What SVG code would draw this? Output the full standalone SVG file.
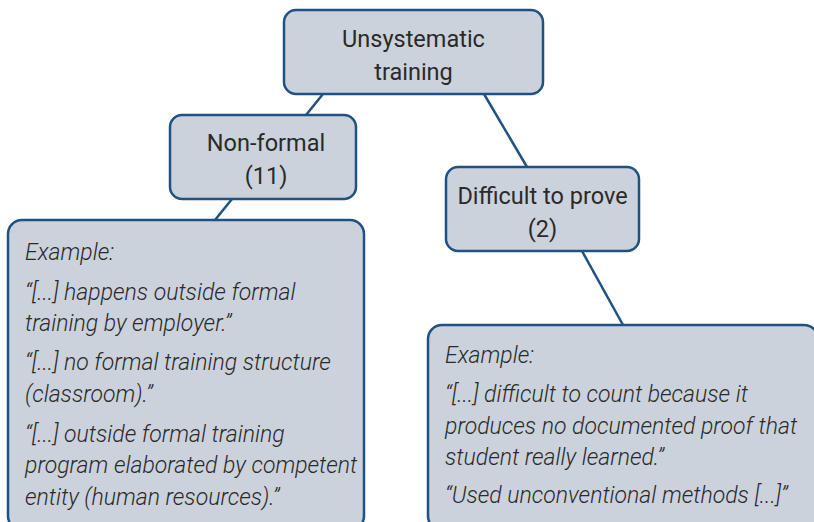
<svg xmlns="http://www.w3.org/2000/svg" width="814" height="522" viewBox="0 0 814 522">
<style>
.box{fill:#cbd2dc;stroke:#1f5282;stroke-width:2.5}
.ln{stroke:#1f5282;stroke-width:2.5;fill:none}
.t{font-family:Roboto,"Liberation Sans",sans-serif;font-size:23.5px;fill:#2a2a2a;text-anchor:middle}
.e{font-family:Roboto,"Liberation Sans",sans-serif;font-size:23px;font-style:italic;fill:#2a2a2a;font-weight:300}
</style>
<rect width="814" height="522" fill="#ffffff"/>
<g id="connectors">
<line class="ln" x1="323" y1="94" x2="306" y2="115"/>
<line class="ln" x1="484" y1="94" x2="527" y2="167"/>
<line class="ln" x1="232" y1="199" x2="215" y2="220"/>
<line class="ln" x1="582" y1="251" x2="623" y2="325"/>
</g>
<g id="unsystematic">
<rect class="box" x="284" y="10" width="259" height="84" rx="12"/>
<text class="t" x="413.5" y="47">Unsystematic</text>
<text class="t" x="413.5" y="80">training</text>
</g>
<g id="nonformal">
<rect class="box" x="170" y="115" width="186" height="84" rx="12"/>
<text class="t" x="266" y="151">Non-formal</text>
<text class="t" x="266" y="184">(11)</text>
</g>
<g id="difficult">
<rect class="box" x="446" y="167" width="193" height="84" rx="12"/>
<text class="t" x="542.5" y="204">Difficult to prove</text>
<text class="t" x="542.5" y="237">(2)</text>
</g>
<g id="example-left">
<rect class="box" x="8" y="220" width="356" height="310" rx="14"/>
<text class="e" x="25" y="260">Example:</text>
<text class="e" x="25" y="300">“[...] happens outside formal</text>
<text class="e" x="25" y="331">training by employer.”</text>
<text class="e" x="25" y="370">“[...] no formal training structure</text>
<text class="e" x="25" y="402">(classroom).”</text>
<text class="e" x="25" y="442">“[...] outside formal training</text>
<text class="e" x="25" y="473">program elaborated by competent</text>
<text class="e" x="25" y="505">entity (human resources).”</text>
</g>
<g id="example-right">
<rect class="box" x="428" y="325" width="390" height="205" rx="14"/>
<text class="e" x="445" y="363">Example:</text>
<text class="e" x="445" y="402">“[...] difficult to count because it</text>
<text class="e" x="445" y="434">produces no documented proof that</text>
<text class="e" x="445" y="465">student really learned.”</text>
<text class="e" x="445" y="503">“Used unconventional methods [...]”</text>
</g>
</svg>
